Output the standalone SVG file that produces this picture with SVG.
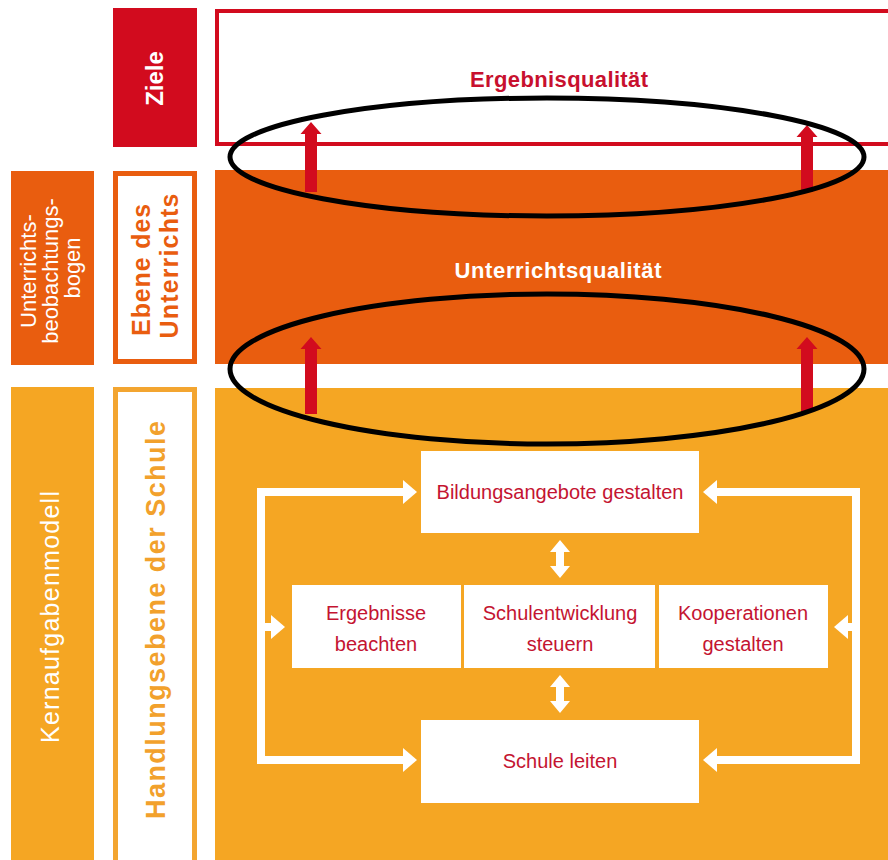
<svg xmlns="http://www.w3.org/2000/svg" width="888" height="860" viewBox="0 0 888 860">
<style>
text{font-family:"Liberation Sans",Arial,sans-serif}
.red{fill:#d20b1e}
.org{fill:#e95d0f}
.yel{fill:#f5a623}
.wtxt{fill:#ffffff}
.btxt{fill:#c41431;font-size:20px;text-anchor:middle}
.wbox{fill:#ffffff}
.upar{fill:#d20b1e}
.conn{stroke:#ffffff;stroke-width:8;fill:none}
.ell{fill:none;stroke:#000000;stroke-width:5}
</style>
<defs>
<marker id="ah" markerUnits="userSpaceOnUse" markerWidth="14" markerHeight="24" refX="4" refY="12" orient="auto-start-reverse" viewBox="0 0 14 24">
<path d="M0,0 L14,12 L0,24 Z" fill="#ffffff"/>
</marker>
</defs>
<rect width="888" height="860" fill="#ffffff"/>

<g id="ziele">
<rect x="113" y="8" width="84" height="139" class="red"/>
<text transform="translate(163,78.5) rotate(-90)" text-anchor="middle" font-size="24" font-weight="bold" class="wtxt">Ziele</text>
</g>

<g id="ergebnisqualitaet">
<rect x="217" y="11" width="700" height="133" fill="#ffffff" stroke="#d20b1e" stroke-width="4"/>
<text x="559" y="87" text-anchor="middle" font-size="22" font-weight="bold" fill="#c8102e" textLength="178" lengthAdjust="spacing">Ergebnisqualität</text>
</g>

<g id="unterrichtsbeobachtungsbogen">
<rect x="11" y="171" width="83" height="194" class="org"/>
<text transform="translate(0,268) rotate(-90)" text-anchor="middle" font-size="22" class="wtxt">
<tspan x="0" y="36">Unterrichts-</tspan>
<tspan x="0" y="58">beobachtungs-</tspan>
<tspan x="0" y="80">bogen</tspan>
</text>
</g>

<g id="ebene-des-unterrichts">
<rect x="115.5" y="173.5" width="79" height="188" fill="#ffffff" stroke="#e95d0f" stroke-width="5"/>
<text transform="translate(0,266) rotate(-90)" text-anchor="middle" font-size="25" font-weight="bold" fill="#e95d0f">
<tspan x="0" y="150" textLength="132" lengthAdjust="spacing">Ebene des</tspan>
<tspan x="0" y="178" textLength="145" lengthAdjust="spacing">Unterrichts</tspan>
</text>
</g>

<g id="unterrichtsqualitaet">
<rect x="215" y="170" width="673" height="194" class="org"/>
<text x="558" y="278" text-anchor="middle" font-size="22" font-weight="bold" class="wtxt" textLength="207" lengthAdjust="spacing">Unterrichtsqualität</text>
</g>

<g id="kernaufgabenmodell">
<rect x="11" y="387" width="83" height="473" class="yel"/>
<text transform="translate(59,617) rotate(-90)" text-anchor="middle" font-size="25" class="wtxt" textLength="252" lengthAdjust="spacing">Kernaufgabenmodell</text>
</g>

<g id="handlungsebene">
<rect x="115.5" y="389.5" width="79" height="480" fill="#ffffff" stroke="#f3a530" stroke-width="5"/>
<text transform="translate(165,620) rotate(-90)" text-anchor="middle" font-size="27" font-weight="bold" fill="#f2a12c" textLength="398" lengthAdjust="spacing">Handlungsebene der Schule</text>
</g>

<g id="schulebene">
<rect x="215" y="388" width="673" height="472" class="yel"/>
</g>

<g id="bildungsangebote">
<rect x="421" y="451" width="278" height="82" class="wbox"/>
<text x="560" y="499" class="btxt">Bildungsangebote gestalten</text>
</g>

<g id="ergebnisse">
<rect x="292" y="585" width="169" height="83" class="wbox"/>
<text x="376" y="620" class="btxt">Ergebnisse</text>
<text x="376" y="651" class="btxt">beachten</text>
</g>

<g id="schulentwicklung">
<rect x="464" y="585" width="191" height="83" class="wbox"/>
<text x="560" y="620" class="btxt">Schulentwicklung</text>
<text x="560" y="651" class="btxt">steuern</text>
</g>

<g id="kooperationen">
<rect x="659" y="585" width="169" height="83" class="wbox"/>
<text x="743" y="620" class="btxt">Kooperationen</text>
<text x="743" y="651" class="btxt">gestalten</text>
</g>

<g id="schule-leiten">
<rect x="421" y="720" width="278" height="83" class="wbox"/>
<text x="560" y="768" class="btxt">Schule leiten</text>
</g>

<g id="connectors">
<path class="conn" d="M407,492 H261 V760 H407" marker-start="url(#ah)" marker-end="url(#ah)"/>
<path class="conn" d="M261,627 H275" marker-end="url(#ah)"/>
<path class="conn" d="M713,492 H856 V760 H713" marker-start="url(#ah)" marker-end="url(#ah)"/>
<path class="conn" d="M856,627 H844" marker-end="url(#ah)"/>
<path d="M560,540 L570,552 H564 V566 H570 L560,578 L550,566 H556 V552 H550 Z" fill="#ffffff"/>
<path d="M560,675 L570,687 H564 V701 H570 L560,713 L550,701 H556 V687 H550 Z" fill="#ffffff"/>
<path class="upar" d="M305,192 V134 H300.5 L311,122 L321.5,134 H317 V192 Z"/>
<path class="upar" d="M801,192 V137 H796.5 L807,125 L817.5,137 H813 V192 Z"/>
<path class="upar" d="M305,414 V349 H300.5 L311,337 L321.5,349 H317 V414 Z"/>
<path class="upar" d="M801,412 V349 H796.5 L807,337 L817.5,349 H813 V412 Z"/>
</g>

<g id="highlights">
<ellipse class="ell" cx="547" cy="157" rx="317" ry="59"/>
<ellipse class="ell" cx="547" cy="369" rx="317" ry="75"/>
</g>
</svg>
